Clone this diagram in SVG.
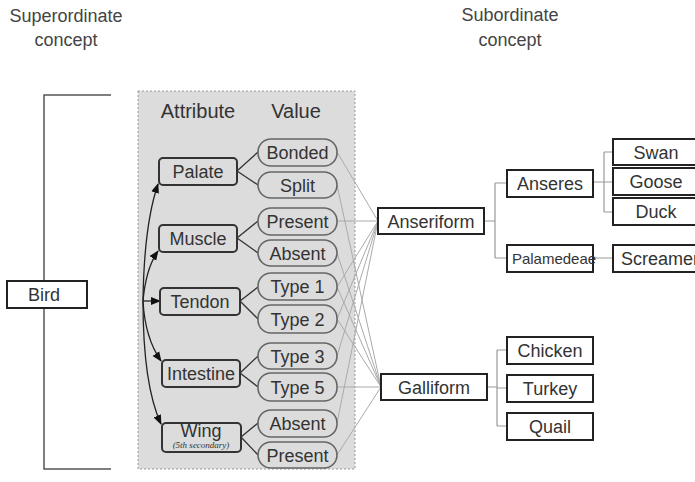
<svg xmlns="http://www.w3.org/2000/svg" width="695" height="482" viewBox="0 0 695 482">
<defs>
<style>
text{font-family:"Liberation Sans",Arial,sans-serif;font-size:18px;fill:#333;text-anchor:middle}
.hdr{fill:#444}
.col{font-size:20px}
.att rect{fill:#dcdcdc;stroke:#333;stroke-width:2}
.val rect{fill:#dcdcdc;stroke:#666;stroke-width:1.6}
.box rect{fill:#fff;stroke:#222;stroke-width:2}
.arr{fill:none;stroke:#222;stroke-width:1.3;marker-end:url(#ah)}
.av{fill:none;stroke:#333;stroke-width:1.3}
.vc{fill:none;stroke:#aaa;stroke-width:1}
.tree{fill:none;stroke:#999;stroke-width:1.2}
.sub{font-family:"Liberation Serif","Times New Roman",serif;font-style:italic;font-size:9px}
</style>
<marker id="ah" viewBox="0 0 10 10" refX="9" refY="5" markerWidth="10" markerHeight="10" markerUnits="userSpaceOnUse" orient="auto">
<path d="M0,1 L10,5 L0,9 z" fill="#111"/>
</marker>
</defs>
<rect width="695" height="482" fill="#fff"/>

<g id="headers">
<text class="hdr" x="66" y="22">Superordinate</text>
<text class="hdr" x="66" y="46">concept</text>
<text class="hdr" x="510" y="21">Subordinate</text>
<text class="hdr" x="510" y="46">concept</text>
</g>

<g id="panel">
<rect x="138" y="91" width="217" height="378" fill="#dcdcdc" stroke="#999" stroke-width="1" stroke-dasharray="2,2"/>
<text class="col" x="198" y="118">Attribute</text>
<text class="col" x="296" y="118">Value</text>
</g>

<g id="connectors">
<path d="M111 95 H44 V469 H111" fill="none" stroke="#555" stroke-width="1.5"/>
<path class="arr" d="M143 301 Q144 225 158 184"/>
<path class="arr" d="M143 301 Q146 268 158 251"/>
<path class="arr" d="M143 301 H160"/>
<path class="arr" d="M143 301 Q145 338 161 361"/>
<path class="arr" d="M143 301 Q143 385 161 424"/>
<path class="av" d="M237 171 L258 152 M237 171 L258 185"/>
<path class="av" d="M237 238 L258 221 M237 238 L258 253"/>
<path class="av" d="M240 301 L258 287 M240 301 L258 319"/>
<path class="av" d="M240 373 L258 356 M240 373 L258 387"/>
<path class="av" d="M241 437 L258 423 M241 437 L258 455"/>
<path class="vc" d="M337 152 L378 221 M337 221 L378 221 M337 287 L378 221 M337 319 L378 221 M337 356 L378 221 M337 423 L378 221"/>
<path class="vc" d="M337 185 L381 387 M337 253 L381 387 M337 287 L381 387 M337 319 L381 387 M337 387 L381 387 M337 455 L381 387"/>
<path class="tree" d="M484 221 H495 M495 183 V258 M495 183 H507 M495 258 H507"/>
<path class="tree" d="M593 182 H604 M604 152 V212 M604 152 H613 M604 212 H613 M604 182 H613 M593 258 H613"/>
<path class="tree" d="M487 387 H497 M497 350 V426 M497 350 H507 M497 388 H507 M497 426 H507"/>
</g>

<g id="bird" class="box"><rect x="7" y="281" width="80" height="27"/><text x="44" y="301">Bird</text></g>

<g id="palate" class="att"><rect x="159" y="158" width="78" height="27" rx="4"/><text x="198" y="178">Palate</text></g>
<g id="muscle" class="att"><rect x="159" y="225" width="78" height="27" rx="4"/><text x="198" y="245">Muscle</text></g>
<g id="tendon" class="att"><rect x="160" y="288" width="80" height="27" rx="4"/><text x="200" y="308">Tendon</text></g>
<g id="intestine" class="att"><rect x="162" y="360" width="78" height="27" rx="4"/><text x="201" y="380">Intestine</text></g>
<g id="wing" class="att"><rect x="162" y="423" width="79" height="29" rx="4"/><text x="201" y="437">Wing</text><text class="sub" x="201" y="448">(5th secondary)</text></g>

<g id="bonded" class="val"><rect x="258" y="139" width="79" height="27" rx="13"/><text x="297.5" y="159">Bonded</text></g>
<g id="split" class="val"><rect x="258" y="172" width="79" height="26" rx="13"/><text x="297.5" y="192">Split</text></g>
<g id="present1" class="val"><rect x="258" y="208" width="79" height="27" rx="13"/><text x="297.5" y="228">Present</text></g>
<g id="absent1" class="val"><rect x="258" y="240" width="79" height="26" rx="13"/><text x="297.5" y="260">Absent</text></g>
<g id="type1" class="val"><rect x="258" y="273" width="79" height="27" rx="13"/><text x="297.5" y="293">Type 1</text></g>
<g id="type2" class="val"><rect x="258" y="305" width="79" height="28" rx="13"/><text x="297.5" y="326">Type 2</text></g>
<g id="type3" class="val"><rect x="258" y="343" width="79" height="26" rx="13"/><text x="297.5" y="363">Type 3</text></g>
<g id="type5" class="val"><rect x="258" y="373" width="79" height="28" rx="13"/><text x="297.5" y="394">Type 5</text></g>
<g id="absent2" class="val"><rect x="258" y="410" width="79" height="27" rx="13"/><text x="297.5" y="430">Absent</text></g>
<g id="present2" class="val"><rect x="258" y="442" width="79" height="26" rx="13"/><text x="297.5" y="462">Present</text></g>

<g id="anseriform" class="box"><rect x="378" y="208" width="106" height="26"/><text x="431" y="228">Anseriform</text></g>
<g id="galliform" class="box"><rect x="381" y="374" width="106" height="26"/><text x="434" y="394">Galliform</text></g>

<g id="anseres" class="box"><rect x="507" y="170" width="86" height="27"/><text x="550" y="190">Anseres</text></g>
<g id="palamedeae" class="box"><rect x="507" y="245" width="86" height="27"/><text x="554" y="264" style="font-size:15px">Palamedeae</text></g>
<g id="swan" class="box"><rect x="613" y="139" width="88" height="26"/><text x="656" y="159">Swan</text></g>
<g id="goose" class="box"><rect x="613" y="168" width="88" height="27"/><text x="656" y="188">Goose</text></g>
<g id="duck" class="box"><rect x="613" y="198" width="88" height="27"/><text x="656" y="218">Duck</text></g>
<g id="screamer" class="box"><rect x="613" y="245" width="88" height="27"/><text x="660" y="265">Screamer</text></g>

<g id="chicken" class="box"><rect x="507" y="337" width="86" height="27"/><text x="550" y="357">Chicken</text></g>
<g id="turkey" class="box"><rect x="507" y="375" width="86" height="27"/><text x="550" y="395">Turkey</text></g>
<g id="quail" class="box"><rect x="507" y="413" width="86" height="27"/><text x="550" y="433">Quail</text></g>
</svg>
